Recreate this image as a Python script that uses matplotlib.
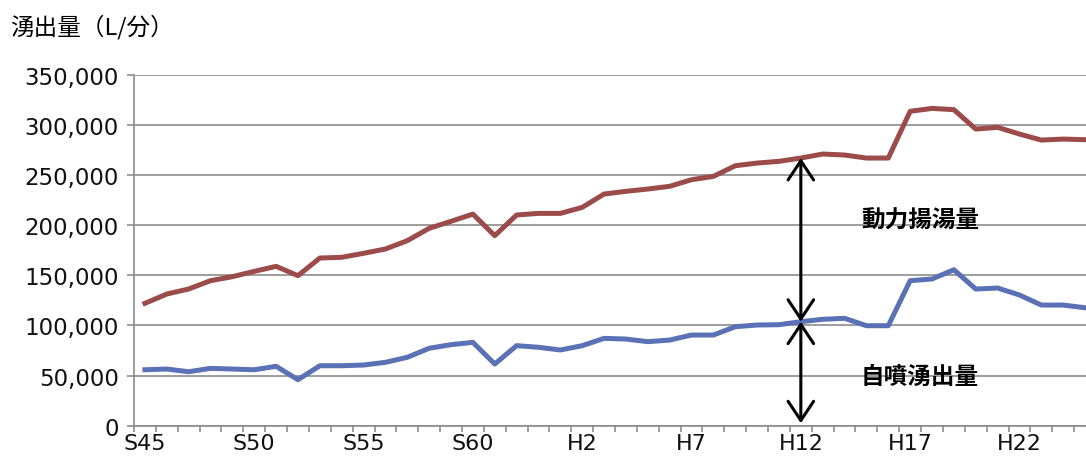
import numpy as np
import matplotlib.pyplot as plt

plt.rcParams['font.family'] = ['DejaVu Sans', 'Noto Sans CJK JP']

# fiscal years S45 (1970) .. H25 (2013)
years = list(range(1970, 2014))
tick_years = [1970, 1975, 1980, 1985, 1990, 1995, 2000, 2005, 2010]
tick_labels = ['S45', 'S50', 'S55', 'S60', 'H2', 'H7', 'H12', 'H17', 'H22']

# total discharge incl. pumping (L/min)
total = [122000, 131300, 136300, 144600, 148600, 153900, 158900, 149600, 167200, 167900,
         171900, 176200, 184500, 196800, 203800, 211000, 189500, 210100, 211700, 211700,
         217700, 231000, 233700, 236000, 238700, 245300, 248600, 259200, 261900, 263600,
         266900, 270900, 269900, 266900, 266900, 313500, 316400, 315100, 295800, 297500,
         290800, 284800, 285800, 285200]
# natural (artesian) discharge (L/min)
natural = [55800, 56500, 53800, 57200, 56500, 55800, 59200, 45900, 59800, 59800,
           60500, 63200, 68200, 77200, 80800, 83100, 61500, 79800, 78200, 75500,
           79800, 87100, 86400, 83800, 85400, 90400, 90400, 98700, 100400, 100700,
           103700, 106100, 107100, 99700, 99700, 144600, 146300, 155500, 136300, 137300,
           130300, 120300, 120300, 117600]

W, H = 1086, 460
fig = plt.figure(figsize=(W / 100, H / 100), dpi=100)
ax = fig.add_axes([134 / W, (H - 426.7) / H, (1096 - 134) / W, 351 / H])

x = np.arange(len(years))
ax.plot(x, total, color='#9C4B4B', lw=3.6, solid_joinstyle='round', zorder=3)
ax.plot(x, natural, color='#5A71B6', lw=3.6, solid_joinstyle='round', zorder=3)

ax.set_xlim(-0.5, len(years) - 0.5)
ax.set_ylim(0, 350000)

grid_c = '#8C8C8C'
ax.set_yticks(np.arange(0, 350001, 50000))
ax.set_yticklabels([f'{v:,}' for v in range(0, 350001, 50000)])
ax.yaxis.grid(True, color=grid_c, lw=1.2)
ax.set_axisbelow(True)

# ticks between categories, labels under every 5th year
ax.set_xticks(np.arange(-0.5, len(years), 1.0))
ax.set_xticklabels([])
ax.set_xticks([years.index(y) for y in tick_years], minor=True)
ax.set_xticklabels(tick_labels, minor=True)
ax.tick_params(axis='x', which='major', length=4, width=1.2, color=grid_c)
ax.tick_params(axis='x', which='minor', length=0, pad=5, labelsize=16, labelcolor='#111111')
ax.tick_params(axis='y', length=5, width=1.2, color=grid_c, pad=6, labelsize=16.5,
               labelcolor='#111111')

for s in ['top', 'right']:
    ax.spines[s].set_visible(False)
for s in ['left', 'bottom']:
    ax.spines[s].set_color(grid_c)
    ax.spines[s].set_linewidth(1.2)

# arrows marking the two components at H12
i12 = years.index(2000)
arrow = dict(arrowstyle='<->,head_length=0.6,head_width=0.4', color='black', lw=2.2,
             mutation_scale=23, shrinkA=0, shrinkB=0)
ax.annotate('', xy=(i12, total[i12]), xytext=(i12, natural[i12]), arrowprops=arrow, zorder=4)
ax.annotate('', xy=(i12, natural[i12]), xytext=(i12, 2500), arrowprops=arrow, zorder=4)

ax.text(32.75, 205000, '動力揚湯量', fontsize=17, fontweight='bold', va='center',
        family=['Noto Sans CJK JP'], zorder=5)
ax.text(32.75, 50000, '自噴湧出量', fontsize=17, fontweight='bold', va='center',
        family=['Noto Sans CJK JP'], zorder=5)

fig.text(10 / W, 1 - 27 / H, '湧出量（L/分）', fontsize=17, va='center', ha='left',
         family=['Noto Sans CJK JP', 'DejaVu Sans'])

fig.savefig('out.png', dpi=100)
